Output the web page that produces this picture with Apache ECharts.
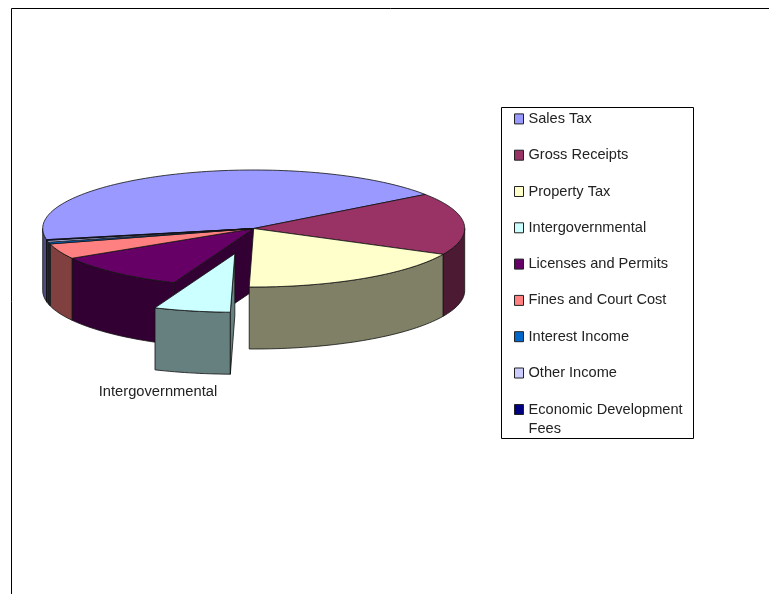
<!DOCTYPE html>
<html>
<head>
<meta charset="utf-8">
<style>html,body{margin:0;padding:0;background:#fff}#c{width:769px;height:594px}</style>
<script src="https://cdn.jsdelivr.net/npm/echarts@6/dist/echarts.min.js"></script>
</head>
<body>
<div id="c"></div>
<script>
const categories = ['Sales Tax','Gross Receipts','Property Tax','Intergovernmental','Licenses and Permits','Fines and Court Cost','Interest Income','Other Income','Economic Development\nFees'];
const values = [43.25,17.2,18.1,5.85,10.35,4.25,0.5,0.5,0.2];
const topColors = ['#9999FF','#993366','#FFFFCC','#CCFFFF','#660066','#FF8080','#0066CC','#CCCCFF','#000080'];
const sideColors = ['#4D4D80','#4D1A33','#808066','#668080','#330033','#804040','#003366','#666680','#000040'];
const explodedIndex = 3;

const FONT = '"Liberation Sans", Arial, sans-serif';
const geo = {cx:253.7, cy:228.5, rx:211, ry:58.5, depth:62, startDeg:259, explode:0.44};
const total = values.reduce((a,b)=>a+b,0);

function sliceRange(i){
  let s = geo.startDeg;
  for(let k=0;k<i;k++) s += values[k]/total*360;
  return [s, s + values[i]/total*360];
}
function offsetOf(i){
  if(i!==explodedIndex) return [0,0];
  const r = sliceRange(i), m=(r[0]+r[1])/2*Math.PI/180;
  return [geo.rx*geo.explode*Math.sin(m), -geo.ry*geo.explode*Math.cos(m)];
}
function pt(deg,off,dz){
  const t=deg*Math.PI/180;
  return [geo.cx+off[0]+geo.rx*Math.sin(t), geo.cy+off[1]-geo.ry*Math.cos(t)+(dz||0)];
}
function arc(a,b,off,dz){
  const pts=[], n=Math.max(2,Math.ceil(Math.abs(b-a)/1.5));
  for(let j=0;j<=n;j++) pts.push(pt(a+(b-a)*j/n,off,dz));
  return pts;
}
function poly(points,fill,z2){
  return {type:'polygon',z2:z2,shape:{points:points},
    style:{fill:fill,stroke:'#111',lineWidth:0.8,lineJoin:'round'}};
}
function renderSlice(i){
  return function(params,api){
    api.value(0);
    const r=sliceRange(i), off=offsetOf(i), ex=i===explodedIndex, base=ex?20:0;
    const children=[];
    // outer wall: the parts of the rim on the viewer's side (90..270 deg, mod 360)
    for(let w=0;w<=1;w++){
      const a=Math.max(r[0],90+360*w), b=Math.min(r[1],270+360*w);
      if(b>a){
        const top=arc(a,b,off,0), bot=arc(a,b,off,geo.depth).reverse();
        children.push(poly(top.concat(bot),sideColors[i],base+2));
      }
    }
    // radial walls that border the gap left by the exploded slice
    const apex=[geo.cx+off[0],geo.cy+off[1]];
    const apexB=[apex[0],apex[1]+geo.depth];
    const radZ=ex?base+3:base+1;
    const showStart=(ex||i===explodedIndex+1)&&Math.sin(r[0]*Math.PI/180)<0;
    const showEnd=(ex||i===explodedIndex-1)&&Math.sin(r[1]*Math.PI/180)>0;
    if(showStart){const p=pt(r[0],off,0),q=pt(r[0],off,geo.depth);children.push(poly([apex,p,q,apexB],sideColors[i],radZ));}
    if(showEnd){const p=pt(r[1],off,0),q=pt(r[1],off,geo.depth);children.push(poly([apex,p,q,apexB],sideColors[i],radZ));}
    // top face
    children.push(poly([apex].concat(arc(r[0],r[1],off,0)),topColors[i],base+10));
    if(ex){
      const m=(r[0]+r[1])/2, p=pt(m,off,geo.depth);
      children.push({type:'text',z2:base+11,style:{text:categories[i],
        x:p[0]-34,y:p[1]+19,align:'center',verticalAlign:'middle',fill:'#222',font:'14.7px '+FONT}});
    }
    return {type:'group',children:children};
  };
}
const legendBase={
  orient:'vertical',left:514,padding:0,itemWidth:9,itemHeight:10,icon:'rect',
  selectedMode:false,align:'left',
  itemStyle:{borderColor:'#222',borderWidth:1},
  textStyle:{fontFamily:'Liberation Sans',fontSize:14.6,lineHeight:19,color:'#222',padding:[2,0,0,0]}
};
const chart=echarts.init(document.getElementById('c'),null,{renderer:'canvas'});
chart.setOption({
  animation:false,
  backgroundColor:'#fff',
  graphic:[
    {type:'rect',silent:true,z:-10,shape:{x:11.5,y:8.5,width:900,height:800},style:{fill:'#fff',stroke:'#000',lineWidth:1}},
    {type:'rect',silent:true,z:-9,shape:{x:501.5,y:107.5,width:192,height:331},style:{fill:'#fff',stroke:'#000',lineWidth:1}}
  ],
  legend:[
    Object.assign({},legendBase,{top:108.4,itemGap:15.3,data:categories.slice(0,8)}),
    Object.assign({},legendBase,{top:380,formatter:function(n){return '\n'+n;},data:categories.slice(8)})
  ],
  series:categories.map(function(name,i){
    return {type:'custom',name:name,coordinateSystem:'none',silent:true,clip:false,
      itemStyle:{color:topColors[i]},data:[[values[i]]],renderItem:renderSlice(i)};
  })
});
</script>
</body>
</html>
